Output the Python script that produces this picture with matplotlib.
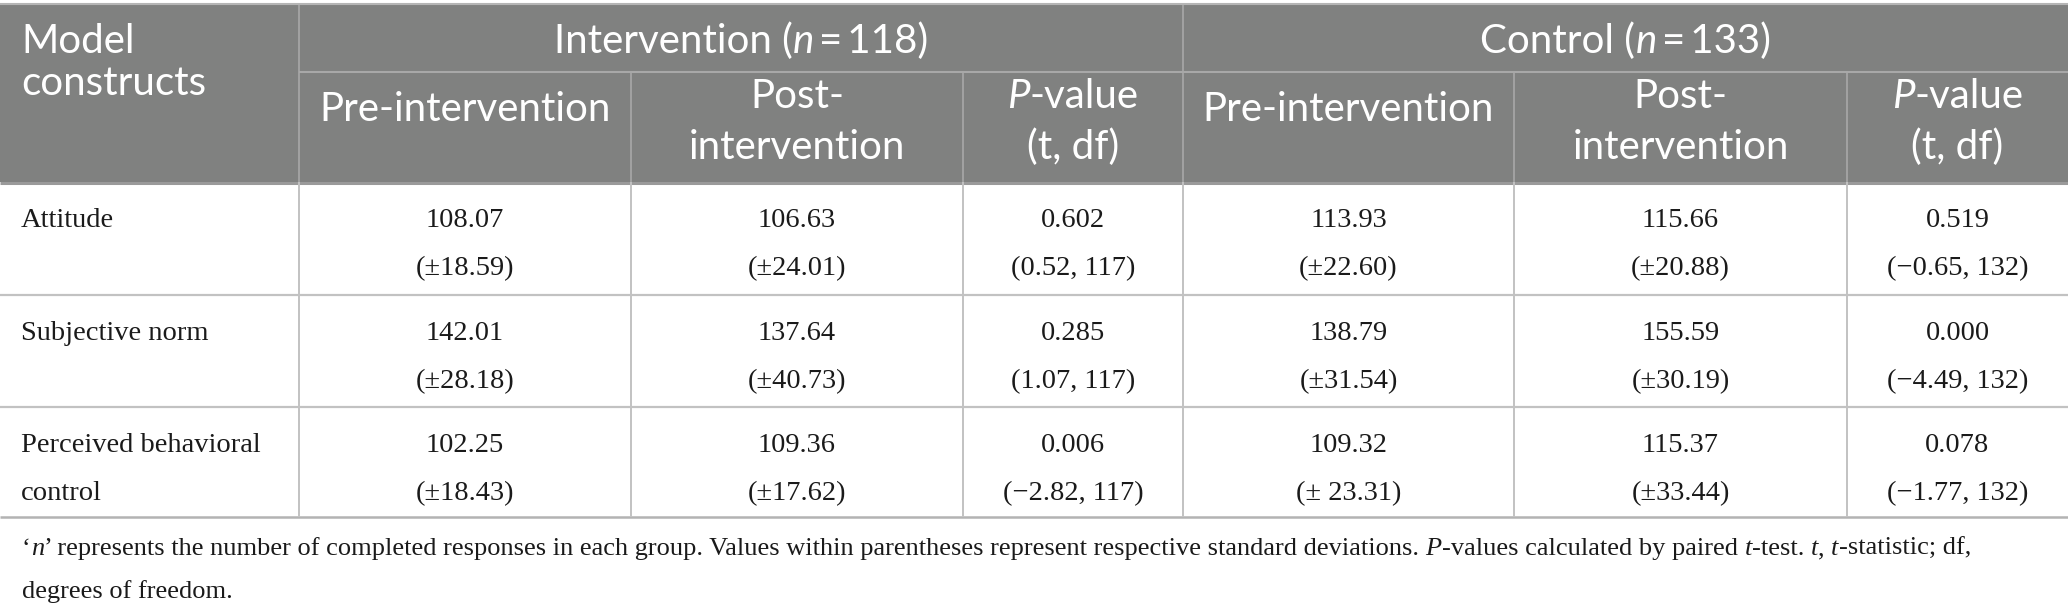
"""Redraw the paired t-test table of model constructs."""

import matplotlib

matplotlib.use("Agg")
import matplotlib.pyplot as plt
from matplotlib.patches import Rectangle

W, H = 2068, 607

constructs = ["Attitude", "Subjective norm", "Perceived behavioral\ncontrol"]
n_int, n_ctl = 118, 133

int_pre_mean = [108.07, 142.01, 102.25]
int_pre_sd = [18.59, 28.18, 18.43]
int_post_mean = [106.63, 137.64, 109.36]
int_post_sd = [24.01, 40.73, 17.62]
int_p = [0.602, 0.285, 0.006]
int_t = [0.52, 1.07, -2.82]
int_df = [117, 117, 117]

ctl_pre_mean = [113.93, 138.79, 109.32]
ctl_pre_sd = [22.60, 31.54, 23.31]
ctl_post_mean = [115.66, 155.59, 115.37]
ctl_post_sd = [20.88, 30.19, 33.44]
ctl_p = [0.519, 0.000, 0.078]
ctl_t = [-0.65, -4.49, -1.77]
ctl_df = [132, 132, 132]

# the source prints one SD with a space after the sign
sd_spaced = {("ctl_pre", 2)}

col_x = [0, 299, 631, 963, 1183, 1514, 1847, 2068]
row_y = [182, 295, 407, 517]

HEAD_BG = "#808180"
HEAD_LINE = "#a8a8a8"
BODY_LINE = "#c2c2c2"
SANS = "Lato"
SERIF = "Liberation Serif"
HEAD_SIZE = 29
BODY_SIZE = 20.5
NOTE_SIZE = 19

fig = plt.figure(figsize=(W / 100, H / 100), dpi=100)
ax = fig.add_axes([0, 0, 1, 1])
ax.set_xlim(0, W)
ax.set_ylim(H, 0)
ax.axis("off")
renderer = fig.canvas.get_renderer()


def width(s, **kw):
    t = ax.text(0, 0, "|" + s + "|", **kw)
    w = t.get_window_extent(renderer).width
    t.remove()
    t = ax.text(0, 0, "||", **kw)
    w -= t.get_window_extent(renderer).width
    t.remove()
    return w


def runs(x, y, parts, ha="left", **kw):
    """Draw (text, style) pieces one after another on a baseline."""
    widths = [width(s, style=st, **kw) for s, st in parts]
    if ha == "center":
        x -= sum(widths) / 2
    for (s, st), w in zip(parts, widths):
        core = s.lstrip()
        lead = width(s[: len(s) - len(core)], style=st, **kw) if core != s else 0
        if core.strip():
            ax.text(x + lead, y, core.rstrip(), style=st, va="baseline", ha="left", **kw)
        x += w


def minus(v, fmt):
    return format(v, fmt).replace("-", "\u2212")


# header block
ax.add_patch(Rectangle((0, 5), W, row_y[0] - 5, color=HEAD_BG, lw=0))
ax.hlines(4, 0, W, color="#b5b5b5", lw=1.5)
ax.hlines(72, col_x[1], W, color=HEAD_LINE, lw=1.5)
ax.vlines([col_x[1], col_x[4]], 5, row_y[0], color=HEAD_LINE, lw=1.2)
ax.vlines([col_x[2], col_x[3], col_x[5], col_x[6]], 72, row_y[0], color=HEAD_LINE, lw=1.2)

hkw = dict(family=SANS, fontsize=HEAD_SIZE, color="white")
ax.text(21, 53, "Model", va="baseline", ha="left", **hkw)
ax.text(21, 95, "constructs", va="baseline", ha="left", **hkw)
for (a, b), label, n in [((1, 4), "Intervention (", n_int), ((4, 7), "Control (", n_ctl)]:
    cx = (col_x[a] + col_x[b]) / 2
    runs(cx, 53, [(label, "normal"), ("n", "italic"), (f"\u2009=\u2009{n})", "normal")],
         ha="center", **hkw)

for g in (1, 4):
    c = [(col_x[g + i] + col_x[g + i + 1]) / 2 for i in range(3)]
    ax.text(c[0], 121, "Pre-intervention", va="baseline", ha="center", **hkw)
    ax.text(c[1], 108, "Post-", va="baseline", ha="center", **hkw)
    ax.text(c[1], 159, "intervention", va="baseline", ha="center", **hkw)
    runs(c[2], 108, [("P", "italic"), ("-value", "normal")], ha="center", **hkw)
    ax.text(c[2], 159, "(t, df)", va="baseline", ha="center", **hkw)

# body
ax.hlines(row_y[0] + 1, 0, W, color="#9a9a9a", lw=2.2)
ax.hlines(row_y[1:3], 0, W, color=BODY_LINE, lw=1.6)
ax.hlines(row_y[3], 0, W, color="#b3b3b3", lw=1.8)
ax.vlines(col_x[1:-1], row_y[0], row_y[3], color=BODY_LINE, lw=1.4)

bkw = dict(family=SERIF, fontsize=BODY_SIZE, color="#1a1a1a")
groups = [
    ("int_pre", int_pre_mean, int_pre_sd),
    ("int_post", int_post_mean, int_post_sd),
    ("int_p", int_p, None),
    ("ctl_pre", ctl_pre_mean, ctl_pre_sd),
    ("ctl_post", ctl_post_mean, ctl_post_sd),
    ("ctl_p", ctl_p, None),
]
for i, name in enumerate(constructs):
    top = row_y[i]
    lines = name.split("\n")
    for k, line in enumerate(lines):
        ax.text(21, top + 45 + 48 * k, line, va="baseline", ha="left", **bkw)
    for j, (key, first, sd) in enumerate(groups):
        cx = (col_x[j + 1] + col_x[j + 2]) / 2
        if sd is None:
            t, df = (int_t, int_df) if key.startswith("int") else (ctl_t, ctl_df)
            top_txt = f"{first[i]:.3f}"
            bot_txt = f"({minus(t[i], '.2f')}, {df[i]})"
        else:
            top_txt = f"{first[i]:.2f}"
            gap = " " if (key, i) in sd_spaced else ""
            bot_txt = f"(\u00b1{gap}{sd[i]:.2f})"
        ax.text(cx, top + 45, top_txt, va="baseline", ha="center", **bkw)
        ax.text(cx, top + 93, bot_txt, va="baseline", ha="center", **bkw)

# footnote
nkw = dict(family=SERIF, fontsize=NOTE_SIZE, color="#1a1a1a")
runs(22, 555, [
    ("\u2018", "normal"), ("n", "italic"),
    ("\u2019 represents the number of completed responses in each group. Values within "
     "parentheses represent respective standard deviations. ", "normal"),
    ("P", "italic"), ("-values calculated by paired ", "normal"), ("t", "italic"),
    ("-test. ", "normal"), ("t", "italic"), (", ", "normal"), ("t", "italic"),
    ("-statistic; df,", "normal"),
], **nkw)
ax.text(22, 598, "degrees of freedom.", va="baseline", ha="left", **nkw)

fig.savefig("out.png", dpi=100)
